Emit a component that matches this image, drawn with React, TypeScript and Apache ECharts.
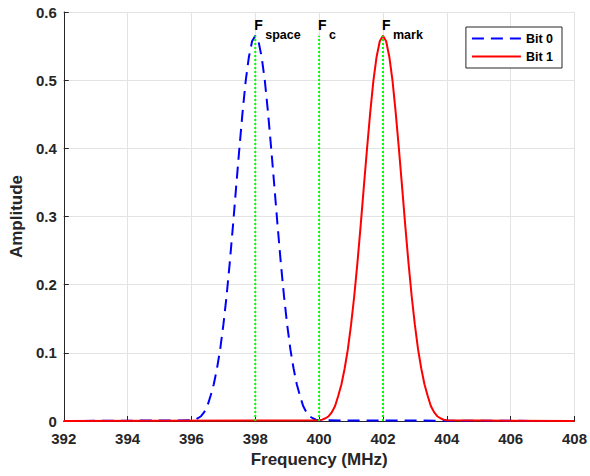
import React, { useEffect, useRef } from "react";
import * as echarts from "echarts";

// Axis ranges / ticks
const xMin = 392;
const xMax = 408;
const xStep = 2;
const yMin = 0;
const yMax = 0.6;
const yStep = 0.1;

// Carrier frequencies (MHz)
const spaceFreq = 398;
const centerFreq = 400;
const markFreq = 402;
const peakAmplitude = 0.565;

// Pulse shape: offset from carrier (MHz)
const pulseOffsets = [
  -2.0, -1.9, -1.8, -1.7, -1.6, -1.5, -1.4, -1.3, -1.2, -1.1, -1.0,
  -0.9, -0.8, -0.7, -0.6, -0.5, -0.4, -0.3, -0.2, -0.1, 0.0,
  0.1, 0.2, 0.3, 0.4, 0.5, 0.6, 0.7, 0.8, 0.9, 1.0,
  1.1, 1.2, 1.3, 1.4, 1.5, 1.6, 1.7, 1.8, 1.9, 2.0,
];

// Bit 0 (space) amplitudes
const bit0Amplitude = [
  0.001, 0.002, 0.004, 0.007, 0.013, 0.022, 0.037, 0.054, 0.077, 0.105, 0.141,
  0.183, 0.232, 0.286, 0.343, 0.399, 0.452, 0.499, 0.534, 0.557, 0.565,
  0.557, 0.534, 0.499, 0.452, 0.399, 0.343, 0.286, 0.232, 0.183, 0.141,
  0.105, 0.077, 0.054, 0.037, 0.022, 0.013, 0.007, 0.004, 0.002, 0.001,
];

// Bit 1 (mark) amplitudes
const bit1Amplitude = [
  0.001, 0.002, 0.004, 0.007, 0.013, 0.022, 0.037, 0.054, 0.077, 0.105, 0.141,
  0.183, 0.232, 0.286, 0.343, 0.399, 0.452, 0.499, 0.534, 0.557, 0.565,
  0.557, 0.534, 0.499, 0.452, 0.399, 0.343, 0.286, 0.232, 0.183, 0.141,
  0.105, 0.077, 0.054, 0.037, 0.022, 0.013, 0.007, 0.004, 0.002, 0.001,
];

const markerLabels = [
  { freq: spaceFreq, main: "F", sub: "space" },
  { freq: centerFreq, main: "F", sub: "c" },
  { freq: markFreq, main: "F", sub: "mark" },
];

const FONT = "'Liberation Sans', Arial, Helvetica, sans-serif";
const AXIS_COLOR = "#262626";

function buildCurve(center: number, amps: number[]): number[][] {
  const pts: number[][] = [[xMin, 0]];
  pulseOffsets.forEach((o, i) => {
    pts.push([+(center + o).toFixed(2), amps[i]]);
  });
  pts.push([xMax, 0]);
  return pts;
}

export default function App() {
  const ref = useRef<HTMLDivElement>(null);

  useEffect(() => {
    if (!ref.current) return;
    const chart = echarts.init(ref.current, undefined, { renderer: "svg" });

    const vline = (f: number) => ({
      type: "line",
      data: [
        [f, 0],
        [f, peakAmplitude],
      ],
      symbol: "none",
      showSymbol: false,
      silent: true,
      z: 5,
      lineStyle: { color: "#00ff00", width: 2, type: [2, 2] },
    });

    const option: any = {
      animation: false,
      backgroundColor: "#ffffff",
      textStyle: { fontFamily: FONT },
      grid: { left: 59, right: 13, top: 12, bottom: 55, containLabel: false },
      legend: {
        data: ["Bit 0", "Bit 1"],
        orient: "vertical",
        right: 28,
        top: 27,
        padding: [5, 9, 5, 5],
        itemWidth: 49,
        itemHeight: 14,
        itemGap: 5,
        itemStyle: { opacity: 0, borderWidth: 0 },
        backgroundColor: "#ffffff",
        borderColor: AXIS_COLOR,
        borderWidth: 1,
        borderRadius: 0,
        textStyle: { fontFamily: FONT, fontWeight: "bold", fontSize: 12.5, color: "#000" },
      },
      xAxis: {
        type: "value",
        min: xMin,
        max: xMax,
        interval: xStep,
        name: "Frequency (MHz)",
        nameLocation: "middle",
        nameGap: 26,
        nameTextStyle: { fontFamily: FONT, fontWeight: "bold", fontSize: 17, color: AXIS_COLOR },
        axisLine: { show: true, onZero: false, lineStyle: { color: AXIS_COLOR, width: 1 } },
        axisTick: { show: true, inside: true, length: 5, lineStyle: { color: AXIS_COLOR } },
        axisLabel: { margin: 10, fontFamily: FONT, fontWeight: "bold", fontSize: 15, color: AXIS_COLOR },
        splitLine: { show: true, lineStyle: { color: "#e3e3e3", width: 1 } },
      },
      yAxis: {
        type: "value",
        min: yMin,
        max: yMax,
        interval: yStep,
        name: "Amplitude",
        nameLocation: "middle",
        nameGap: 37,
        nameTextStyle: { fontFamily: FONT, fontWeight: "bold", fontSize: 17, color: AXIS_COLOR },
        axisLine: { show: true, lineStyle: { color: AXIS_COLOR, width: 1 } },
        axisTick: { show: true, inside: true, length: 5, lineStyle: { color: AXIS_COLOR } },
        axisLabel: { margin: 7, fontFamily: FONT, fontWeight: "bold", fontSize: 15, color: AXIS_COLOR },
        splitLine: { show: true, lineStyle: { color: "#e3e3e3", width: 1 } },
      },
      series: [
        {
          name: "Bit 0",
          type: "line",
          data: buildCurve(spaceFreq, bit0Amplitude),
          symbol: "none",
          showSymbol: false,
          z: 2,
          itemStyle: { color: "#0000ff" },
          lineStyle: { color: "#0000ff", width: 2, type: [12, 7] },
        },
        {
          name: "Bit 1",
          type: "line",
          data: buildCurve(markFreq, bit1Amplitude),
          symbol: "none",
          showSymbol: false,
          z: 3,
          itemStyle: { color: "#ff0000" },
          lineStyle: { color: "#ff0000", width: 2, type: "solid" },
        },
        vline(spaceFreq),
        vline(centerFreq),
        vline(markFreq),
      ],
    };

    chart.setOption(option);

    const graphics: any[] = [];
    markerLabels.forEach((m) => {
      const p = chart.convertToPixel({ xAxisIndex: 0, yAxisIndex: 0 }, [m.freq, peakAmplitude]) as number[];
      graphics.push({
        type: "text",
        x: p[0] - 1,
        y: p[1] - 11,
        z: 10,
        style: {
          text: m.main,
          font: `bold 14px ${FONT}`,
          fill: "#000",
          textAlign: "left",
          textVerticalAlign: "middle",
        },
      });
      graphics.push({
        type: "text",
        x: p[0] + 10,
        y: p[1] - 1,
        z: 10,
        style: {
          text: m.sub,
          font: `bold 12.5px ${FONT}`,
          fill: "#000",
          textAlign: "left",
          textVerticalAlign: "middle",
        },
      });
    });
    chart.setOption({ graphic: graphics });

    return () => chart.dispose();
  }, []);

  return (
    <div
      ref={ref}
      style={{ position: "fixed", left: 0, top: 0, width: 590, height: 476, background: "#fff" }}
    />
  );
}
